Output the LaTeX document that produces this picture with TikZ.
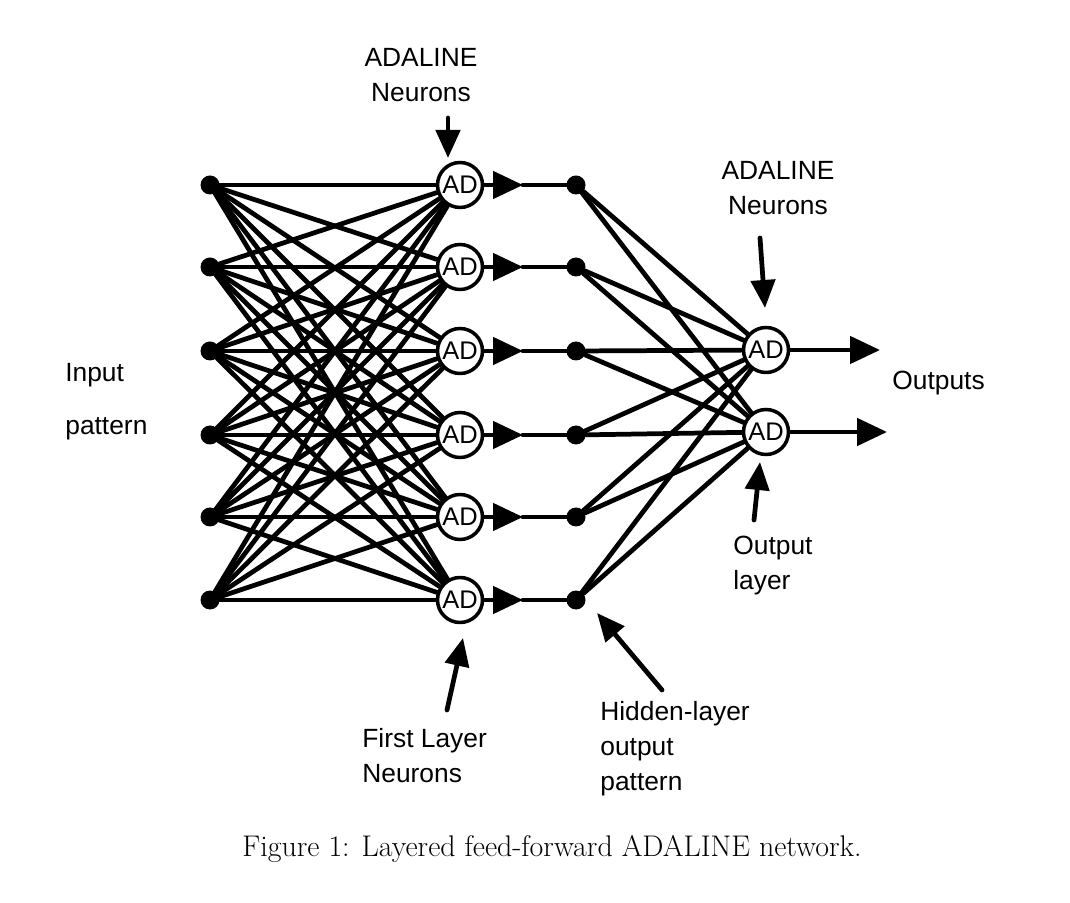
\documentclass[tikz,border=0pt]{standalone}
\usepackage{fontspec}
\setsansfont{Liberation Sans}
\usetikzlibrary{arrows.meta}
\tikzset{
  dot/.style={circle,fill,inner sep=0pt,minimum size=0.38cm},
  adnode/.style={circle,draw,line width=2pt,inner sep=0pt,minimum size=0.9cm,
    font=\sffamily\fontsize{14.5}{15}\selectfont},
  label/.style={inner sep=0pt,align=left,font=\sffamily\fontsize{15}{20}\selectfont},
  wire/.style={line width=2.7pt},
  fwd/.style={wire,-{Triangle[length=0.6cm,width=0.54cm]}},
  pointer/.style={wire,-{Triangle[length=0.56cm,width=0.48cm]}}
}
\begin{document}
\begin{tikzpicture}[line cap=round,line join=round]
  \useasboundingbox (0,0) rectangle (21.4,18.04);
  % input dots, first layer, hidden dots
  \foreach \i/\y in {1/14.34,2/12.70,3/11.02,4/9.34,5/7.70,6/6.04} {
    \node[dot] (in\i) at (4.2,\y) {};
    \node[adnode] (ad\i) at (9.2,\y) {AD};
    \coordinate (m\i) at (10.46,\y);
    \node[dot] (h\i) at (11.52,\y) {};
  }
  \node[adnode] (out1) at (15.32,11.04) {AD};
  \node[adnode] (out2) at (15.32,9.4) {AD};
  \coordinate (o1) at (17.6,11.04);
  \coordinate (o2) at (17.74,9.4);
  % connections
  \foreach \i in {1,...,6} {
    \foreach \j in {1,...,6}
      \draw[wire] (in\i) -- (ad\j);
    \draw[fwd] (ad\i) -- (m\i);
    \draw[wire] (m\i) -- (h\i);
    \draw[wire] (h\i) -- (out1);
    \draw[wire] (h\i) -- (out2);
  }
  \draw[fwd] (out1) -- (o1);
  \draw[fwd] (out2) -- (o2);
  % labels
  \node[label,align=center,anchor=north] (lblad) at (8.42,17.08) {ADALINE\\Neurons};
  \node[label,align=center,anchor=north] (lblout) at (15.56,14.82) {ADALINE\\Neurons};
  \node[label,anchor=north west] (lblinput) at (1.3,10.78) {Input\\[10pt]pattern};
  \node[label,anchor=base west] (lbloutputs) at (17.84,10.24) {Outputs};
  \node[label,anchor=north west] (lbllayer) at (14.66,7.32) {Output\\layer};
  \node[label,anchor=north west] (lblfirst) at (7.24,3.48) {First Layer\\Neurons};
  \node[label,anchor=north west] (lblhidden) at (12.0,4.02) {Hidden-layer\\output\\pattern};
  \coordinate (p1a) at (8.96,15.68);  \coordinate (p1b) at (8.96,14.88);
  \coordinate (p2a) at (15.2,13.28);  \coordinate (p2b) at (15.3,11.88);
  \coordinate (p3a) at (15.08,7.64);  \coordinate (p3b) at (15.2,8.8);
  \coordinate (p4a) at (8.94,3.84);   \coordinate (p4b) at (9.26,5.28);
  \coordinate (p5a) at (13.24,4.24);  \coordinate (p5b) at (11.94,5.78);
  \foreach \k in {1,...,5}
    \draw[pointer] (p\k a) -- (p\k b);
  \node[anchor=base,inner sep=0pt,font=\rmfamily\fontsize{17}{20}\selectfont] (caption) at (11.04,0.92)
    {Figure 1: Layered feed-forward ADALINE network.};
\end{tikzpicture}
\end{document}
